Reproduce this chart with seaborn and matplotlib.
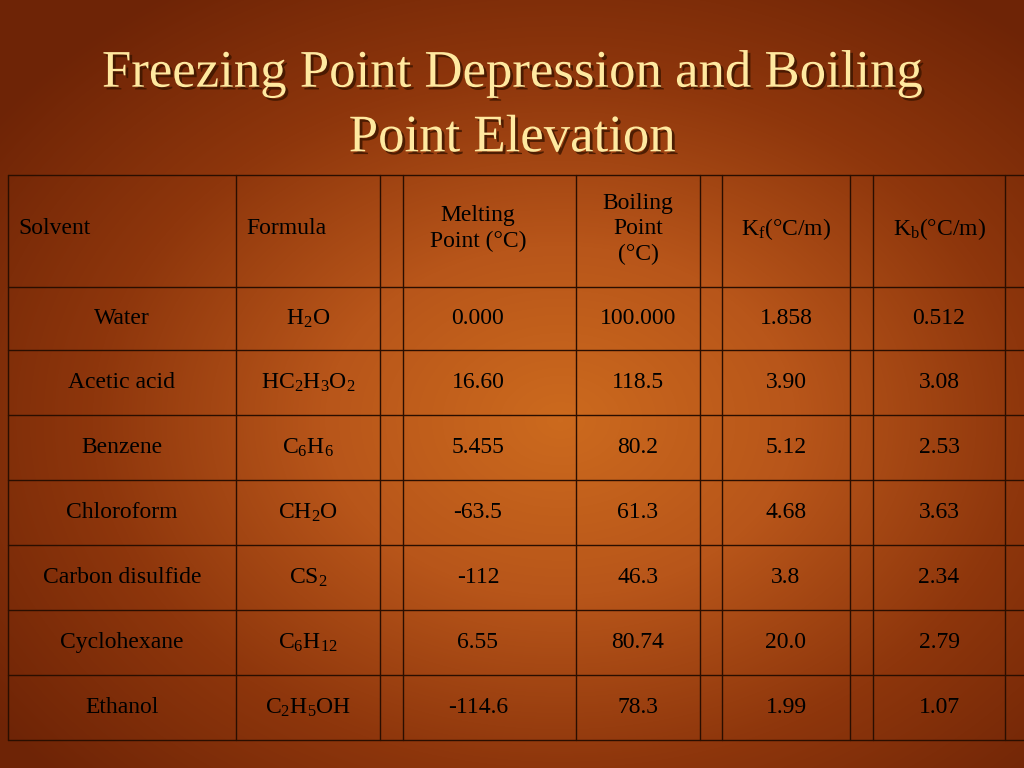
import numpy as np
import seaborn as sns
import matplotlib.pyplot as plt
from matplotlib import font_manager
from matplotlib.colors import LinearSegmentedColormap
import matplotlib.patheffects as pe

sns.set_theme(style="white")
names = {f.name for f in font_manager.fontManager.ttflist}
serif = [n for n in ['Liberation Serif', 'Times New Roman', 'Nimbus Roman', 'Tinos'] if n in names]
plt.rcParams['font.family'] = serif + ['DejaVu Serif']
plt.rcParams['mathtext.fontset'] = 'custom'
base = serif[0] if serif else 'DejaVu Serif'
plt.rcParams['mathtext.rm'] = base
plt.rcParams['mathtext.it'] = base

title = "Freezing Point Depression and Boiling\nPoint Elevation"
headers = ["Solvent", "Formula", "Melting\nPoint (°C)", "Boiling\nPoint\n(°C)",
           r"K$_\mathrm{f}$(°C/m)", r"K$_\mathrm{b}$(°C/m)"]
solvents = ["Water", "Acetic acid", "Benzene", "Chloroform", "Carbon disulfide",
            "Cyclohexane", "Ethanol"]
formulas = [r"H$_2$O", r"HC$_2$H$_3$O$_2$", r"C$_6$H$_6$", r"CH$_2$O", r"CS$_2$",
            r"C$_6$H$_{12}$", r"C$_2$H$_5$OH"]
melting = ["0.000", "16.60", "5.455", "-63.5", "-112", "6.55", "-114.6"]
boiling = ["100.000", "118.5", "80.2", "61.3", "46.3", "80.74", "78.3"]
kf = ["1.858", "3.90", "5.12", "4.68", "3.8", "20.0", "1.99"]
kb = ["0.512", "3.08", "2.53", "3.63", "2.34", "2.79", "1.07"]

fig = plt.figure(figsize=(10.24, 7.68), dpi=100)
ax = fig.add_axes([0, 0, 1, 1])
ax.set_xlim(0, 1024)
ax.set_ylim(768, 0)
ax.axis('off')

# background gradient
yy, xx = np.mgrid[0:768, 0:1024]
r = np.sqrt(((xx - 560) / 700.0) ** 2 + ((yy - 420) / 520.0) ** 2)
cmap = LinearSegmentedColormap.from_list("bg", ["#cc6a1e", "#b8561a", "#8e360c", "#6e2406"])
ax.imshow(np.clip(r, 0, 1), cmap=cmap, extent=[0, 1024, 768, 0], aspect='auto', zorder=0)

ax.text(512, 106, title, ha='center', va='center', fontsize=38, color='#ffe9a0',
        linespacing=1.45,
        path_effects=[pe.withSimplePatchShadow(offset=(2, -2), shadow_rgbFace='#3a1500', alpha=0.8)])

# grid
xs = [8, 236, 380, 403, 576, 700, 722, 850, 873, 1005]
ys = [175, 287, 350, 415, 480, 545, 610, 675, 740]
for x in xs:
    ax.plot([x, x], [ys[0], ys[-1]], color='#2a0e00', lw=1, zorder=2)
for y in ys:
    ax.plot([xs[0], 1024], [y, y], color='#2a0e00', lw=1, zorder=2)

centers = [122, 308, 478, 638, 786, 939]
hy = (ys[0] + ys[1]) / 2
fs = 17
ax.text(18, hy - 2, headers[0], ha='left', va='center', fontsize=fs, color='black')
ax.text(246, hy - 2, headers[1], ha='left', va='center', fontsize=fs, color='black')
for c, h in zip(centers[2:], headers[2:]):
    ax.text(c, hy - 2, h, ha='center', va='center', fontsize=fs, color='black', linespacing=1.3)

cols = [solvents, formulas, melting, boiling, kf, kb]
for i in range(len(solvents)):
    cy = (ys[i + 1] + ys[i + 2]) / 2
    for c, col in zip(centers, cols):
        ax.text(c, cy, col[i], ha='center', va='center', fontsize=fs, color='black')

fig.savefig("out.png", dpi=100)
